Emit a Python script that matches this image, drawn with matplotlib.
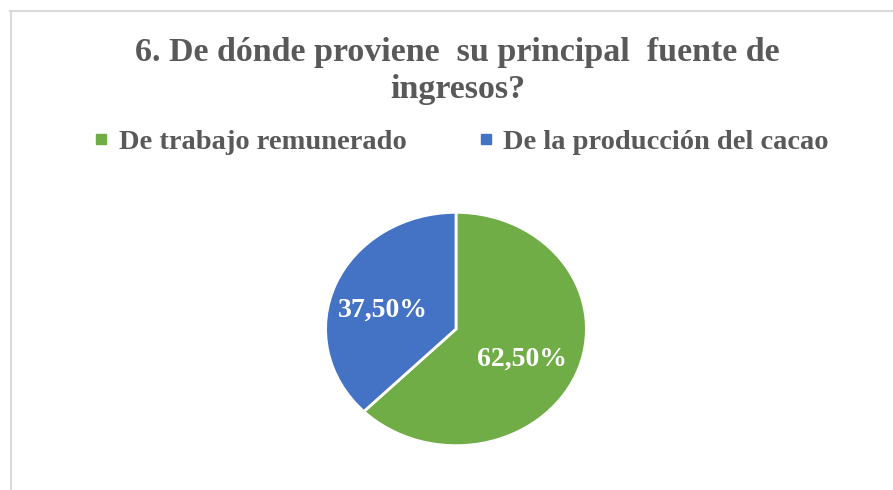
import matplotlib
matplotlib.use("Agg")
import matplotlib.pyplot as plt
import matplotlib.transforms as mtransforms
from matplotlib.lines import Line2D

labels = ["De trabajo remunerado", "De la producción del cacao"]
values = [62.5, 37.5]
colors = ["#70AD47", "#4472C4"]
title = "6. De dónde proviene  su principal  fuente de\ningresos?"

W, H = 893, 490
fig = plt.figure(figsize=(W / 100, H / 100), dpi=100)
fig.patch.set_facecolor("white")

# chart border (top and left visible)
fig.add_artist(Line2D([10 / W, 1], [1 - 11.5 / H, 1 - 11.5 / H], color="#d9d9d9", lw=1.5, transform=fig.transFigure))
fig.add_artist(Line2D([10.5 / W, 10.5 / W], [0, 1 - 11.5 / H], color="#d9d9d9", lw=1.5, transform=fig.transFigure))

# pie axes (stretched like reference)
cx, cy, rx, ry = 456, 329, 133, 119
ax = fig.add_axes([(cx - rx) / W, (H - cy - ry) / H, 2 * rx / W, 2 * ry / H])
wedges, texts, autotexts = ax.pie(
    values, colors=colors, startangle=90, counterclock=False,
    autopct=lambda p: f"{p:.2f}%".replace(".", ","), pctdistance=0.57,
    wedgeprops=dict(edgecolor="white", linewidth=2),
    textprops=dict(color="white", fontsize=20, fontweight="bold", family="Liberation Serif"),
)
offsets = [(-3, -5), (-4, -7)]
for t, (dx, dy) in zip(autotexts, offsets):
    t.set_transform(t.get_transform() + mtransforms.ScaledTranslation(dx / 100, dy / 100, fig.dpi_scale_trans))
ax.set_aspect("auto")
ax.set_xlim(-1.02, 1.02)
ax.set_ylim(-1.02, 1.02)
ax.axis("off")

fig.text(0.5 * (128 + 787) / W, 1 - 71 / H, title, ha="center", va="center",
         fontsize=24.5, fontweight="bold", family="Liberation Serif", color="#595959",
         linespacing=1.25)

handles = [Line2D([], [], marker="s", linestyle="none", markersize=7.5, color=c) for c in colors]
leg = fig.legend(handles, labels, loc="center", bbox_to_anchor=(461 / W, 1 - 142 / H), ncol=2,
                 frameon=False, handlelength=0.55, handletextpad=0.35, columnspacing=2.5,
                 prop=dict(family="Liberation Serif", weight="bold", size=20.5))
for t in leg.get_texts():
    t.set_color("#595959")

fig.savefig("out.png", dpi=100, facecolor="white")
